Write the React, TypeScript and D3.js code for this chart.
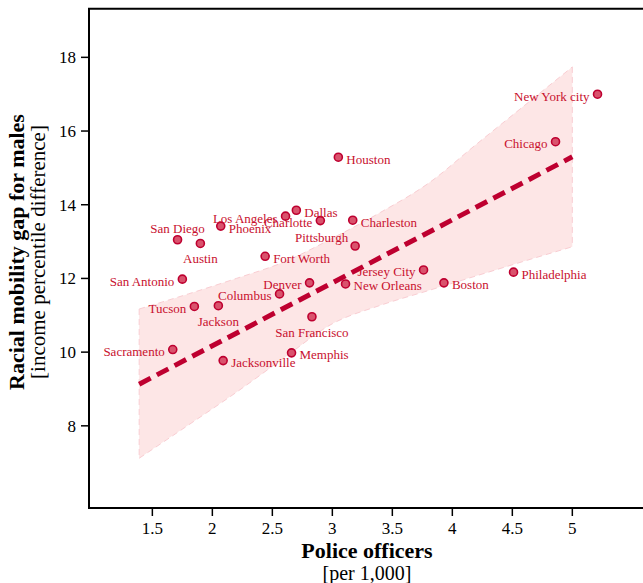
import React from "react";
import * as d3 from "d3";

// City-level observations: police officers per 1,000 residents vs. racial mobility gap for males
const cities = [
  "New York city", "Chicago", "Houston", "Dallas", "Los Angeles", "Charlotte", "Charleston",
  "Phoenix", "San Diego", "Austin", "Pittsburgh", "Fort Worth", "Jersey City", "Philadelphia",
  "San Antonio", "Denver", "Boston", "New Orleans", "Columbus", "Tucson", "Jackson",
  "San Francisco", "Sacramento", "Memphis", "Jacksonville",
];
const officers = [
  5.21, 4.86, 3.05, 2.70, 2.61, 2.90, 3.17,
  2.07, 1.71, 1.90, 3.19, 2.44, 3.76, 4.51,
  1.75, 2.81, 3.93, 3.11, 2.56, 1.85, 2.05,
  2.83, 1.67, 2.66, 2.09,
];
const mobilityGap = [
  17.0, 15.71, 15.29, 13.85, 13.69, 13.57, 13.58,
  13.42, 13.05, 12.95, 12.88, 12.6, 12.23, 12.17,
  11.98, 11.88, 11.88, 11.85, 11.58, 11.24, 11.26,
  10.96, 10.07, 9.98, 9.77,
];

// Fitted line and its confidence band
const fitX = [1.39, 5.0];
const fitY = [9.13, 15.3];
const bandX = [1.39, 1.8, 2.2, 2.6, 3.0, 3.4, 3.8, 4.2, 4.6, 5.0];
const bandUpper = [11.17, 11.58, 12.0, 12.45, 13.09, 13.79, 14.58, 15.64, 16.69, 17.74];
const bandLower = [7.12, 8.02, 8.91, 9.85, 10.77, 11.27, 11.67, 12.07, 12.47, 12.86];

// Axis ticks
const xTicks = [1.5, 2, 2.5, 3, 3.5, 4, 4.5, 5];
const xTickLabels = ["1.5", "2", "2.5", "3", "3.5", "4", "4.5", "5"];
const yTicks = [8, 10, 12, 14, 16, 18];

// Where each city name sits relative to its marker
type Side = "left" | "right" | "above" | "below" | "leftUp";
const labelSide: Record<string, Side> = {
  "New York city": "left", Chicago: "left", Houston: "right", Dallas: "right",
  "Los Angeles": "left", Charlotte: "left", Charleston: "right", Phoenix: "right",
  "San Diego": "above", Austin: "below", Pittsburgh: "leftUp", "Fort Worth": "right",
  "Jersey City": "left", Philadelphia: "right", "San Antonio": "left", Denver: "left",
  Boston: "right", "New Orleans": "right", Columbus: "left", Tucson: "left",
  Jackson: "below", "San Francisco": "below", Sacramento: "left", Memphis: "right",
  Jacksonville: "right",
};

const W = 643;
const H = 583;
const left = 89;
const top = 8.7;
const bottom = 508;
const right = 643;

const FONT = '"Liberation Serif", "Times New Roman", Times, serif';
const RED = "#c8102e";
const LINE_RED = "#be0030";

export default function App() {
  const x = d3.scaleLinear().domain([0.972, 5.589]).range([left, right]);
  const y = d3.scaleLinear().domain([5.77, 19.32]).range([bottom, top]);

  const bandData = bandX.map((bx, i) => ({ x: bx, lo: bandLower[i], hi: bandUpper[i] }));
  const area = d3
    .area<{ x: number; lo: number; hi: number }>()
    .x((d) => x(d.x))
    .y0((d) => y(d.lo))
    .y1((d) => y(d.hi))
    .curve(d3.curveMonotoneX);
  const upperLine = d3
    .line<{ x: number; lo: number; hi: number }>()
    .x((d) => x(d.x))
    .y((d) => y(d.hi))
    .curve(d3.curveMonotoneX);
  const lowerLine = d3
    .line<{ x: number; lo: number; hi: number }>()
    .x((d) => x(d.x))
    .y((d) => y(d.lo))
    .curve(d3.curveMonotoneX);

  const points = cities.map((c, i) => ({ name: c, px: x(officers[i]), py: y(mobilityGap[i]) }));

  const labelProps = (side: Side, px: number, py: number) => {
    switch (side) {
      case "left":
        return { x: px - 8, y: py + 6.5, anchor: "end" };
      case "leftUp":
        return { x: px - 7, y: py - 4, anchor: "end" };
      case "right":
        return { x: px + 8, y: py + 6.5, anchor: "start" };
      case "above":
        return { x: px, y: py - 7, anchor: "middle" };
      case "below":
        return { x: px, y: py + 20, anchor: "middle" };
    }
  };

  const yMid = 252;

  return (
    <svg
      width={W}
      height={H}
      viewBox={`0 0 ${W} ${H}`}
      style={{ position: "absolute", left: 0, top: 0, background: "#fff" }}
      fontFamily={FONT}
    >
      {/* confidence band */}
      <path d={area(bandData) ?? ""} fill="#fde6e6" stroke="none" />
      <path d={upperLine(bandData) ?? ""} fill="none" stroke="#f9cdd2" strokeWidth={1} strokeDasharray="6,4" />
      <path d={lowerLine(bandData) ?? ""} fill="none" stroke="#f9cdd2" strokeWidth={1} strokeDasharray="6,4" />
      <line
        x1={x(bandX[0])} x2={x(bandX[0])} y1={y(bandUpper[0])} y2={y(bandLower[0])}
        stroke="#f9cdd2" strokeWidth={1} strokeDasharray="6,4"
      />
      <line
        x1={x(bandX[bandX.length - 1])} x2={x(bandX[bandX.length - 1])}
        y1={y(bandUpper[bandUpper.length - 1])} y2={y(bandLower[bandLower.length - 1])}
        stroke="#f9cdd2" strokeWidth={1} strokeDasharray="6,4"
      />

      {/* fitted line */}
      <line
        x1={x(fitX[0])} y1={y(fitY[0])} x2={x(fitX[1])} y2={y(fitY[1])}
        stroke={LINE_RED} strokeWidth={5} strokeDasharray="13,7"
      />

      {/* markers */}
      {points.map((p) => (
        <circle key={p.name} cx={p.px} cy={p.py} r={4} fill="#d9536d" stroke={LINE_RED} strokeWidth={1.6} />
      ))}

      {/* city names */}
      {points.map((p) => {
        const lp = labelProps(labelSide[p.name], p.px, p.py);
        return (
          <text key={`t-${p.name}`} x={lp.x} y={lp.y} textAnchor={lp.anchor} fontSize={13} fill={RED}>
            {p.name}
          </text>
        );
      })}

      {/* axes frame */}
      <line x1={left} x2={left} y1={top} y2={bottom + 1} stroke="#000" strokeWidth={2} />
      <line x1={left - 1} x2={right} y1={top} y2={top} stroke="#000" strokeWidth={2} />
      <line x1={left - 1} x2={right} y1={bottom} y2={bottom} stroke="#000" strokeWidth={2} />

      {/* x ticks */}
      {xTicks.map((t, i) => (
        <g key={`xt-${t}`}>
          <line x1={x(t)} x2={x(t)} y1={bottom} y2={bottom + 8} stroke="#000" strokeWidth={1.5} />
          <text x={x(t)} y={bottom + 26} textAnchor="middle" fontSize={17} fill="#000">
            {xTickLabels[i]}
          </text>
        </g>
      ))}

      {/* y ticks */}
      {yTicks.map((t) => (
        <g key={`yt-${t}`}>
          <line x1={left - 8} x2={left} y1={y(t)} y2={y(t)} stroke="#000" strokeWidth={1.5} />
          <text x={left - 13} y={y(t) + 6} textAnchor="end" fontSize={17} fill="#000">
            {t}
          </text>
        </g>
      ))}

      {/* axis titles */}
      <text x={367} y={557.5} textAnchor="middle" fontSize={22} fontWeight="bold" fill="#000">
        Police officers
      </text>
      <text x={367} y={580} textAnchor="middle" fontSize={20} fill="#000">
        [per 1,000]
      </text>
      <text
        transform={`translate(24, ${yMid}) rotate(-90)`}
        textAnchor="middle" fontSize={22} fontWeight="bold" fill="#000"
      >
        Racial mobility gap for males
      </text>
      <text
        transform={`translate(45, ${yMid}) rotate(-90)`}
        textAnchor="middle" fontSize={21} fill="#000"
      >
        [income percentile difference]
      </text>
    </svg>
  );
}
